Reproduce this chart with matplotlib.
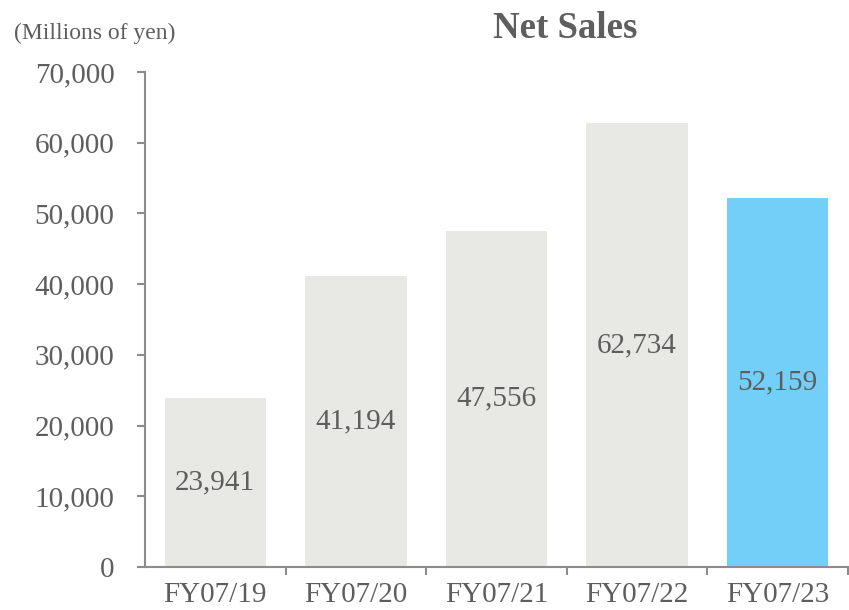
import matplotlib
matplotlib.use("Agg")
import matplotlib.pyplot as plt
from matplotlib.ticker import FuncFormatter, FixedLocator

categories = ["FY07/19", "FY07/20", "FY07/21", "FY07/22", "FY07/23"]
net_sales = [23941, 41194, 47556, 62734, 52159]
bar_colors = ["#E8E8E4", "#E8E8E4", "#E8E8E4", "#E8E8E4", "#74CFF8"]
yticks = [0, 10000, 20000, 30000, 40000, 50000, 60000, 70000]

plt.rcParams['font.family'] = ['Liberation Serif', 'DejaVu Serif']
text_color = "#5E5E5E"
axis_color = "#8C8C8C"

fig = plt.figure(figsize=(8.49, 6.10), dpi=100)
ax = fig.add_axes([145/849, 1-567/610, 703/849, (567-72)/610])

x = list(range(len(categories)))
ax.bar(x, net_sales, width=0.72, color=bar_colors)
for xi, v in zip(x, net_sales):
    ax.text(xi, v/2, f"{v:,}", ha="center", va="center", fontsize=21, color=text_color)

ax.set_xlim(-0.5, len(categories)-0.5)
ax.set_ylim(0, 70000)
ax.set_yticks(yticks)
ax.yaxis.set_major_formatter(FuncFormatter(lambda v, p: f"{int(v):,}"))
ax.set_xticks(x)
ax.set_xticklabels(categories)
ax.tick_params(axis="x", length=0, labelsize=21, labelcolor=text_color, pad=11)
ax.xaxis.set_minor_locator(FixedLocator([i + 0.5 for i in range(len(categories))]))
ax.tick_params(axis="x", which="minor", length=6, color=axis_color, width=1.5)
ax.tick_params(axis="y", length=6, labelsize=21, labelcolor=text_color, color=axis_color, width=1.5, pad=16)

for s in ["top", "right"]:
    ax.spines[s].set_visible(False)
for s in ["left", "bottom"]:
    ax.spines[s].set_color(axis_color)
    ax.spines[s].set_linewidth(1.5)

fig.text(565/849, 1-29/610, "Net Sales", ha="center", va="center", fontsize=26.5,
         fontweight="bold", color=text_color)
fig.text(95/849, 1-33/610, "(Millions of yen)", ha="center", va="center", fontsize=17,
         color=text_color)

fig.savefig("out.png", dpi=100)
